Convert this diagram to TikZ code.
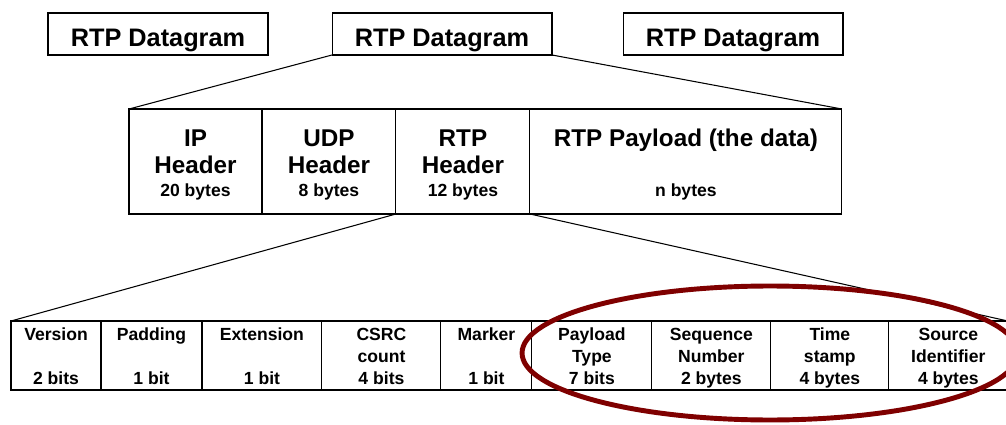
\documentclass[tikz,border=0pt]{standalone}
\usepackage{fontspec}
\setmainfont{Liberation Sans}
\usepackage{tikz}
\usetikzlibrary{positioning, shapes.geometric}
\definecolor{RingRed}{HTML}{7F0000}
\newcommand{\sizetxt}[1]{{\fontsize{10}{12}\selectfont #1}}

\begin{document}
\begin{tikzpicture}[
  x = 0.02cm, y = -0.02cm,
  node distance = 0cm,
  every node/.style = {font=\bfseries},
  cell/.style = {
    rectangle, draw, line width=0.6pt,
    inner sep=0pt, outer sep=0pt,
    align=center
  },
  dgblock/.style  = {cell, minimum width=4.4cm, minimum height=0.84cm,
                     text height=14pt, text depth=0pt,
                     font=\fontsize{14.4}{16}\selectfont\bfseries},
  hdrblock/.style = {cell, minimum height=2.1cm,
                     text height=42.3pt, text depth=2.1pt,
                     font=\fontsize{13.8}{15.9}\selectfont\bfseries},
  fldblock/.style = {cell, minimum height=1.38cm,
                     text height=35.6pt, text depth=2.2pt,
                     font=\fontsize{10}{12.5}\selectfont\bfseries},
  fan/.style      = {line width=0.6pt},
  ring/.style     = {ellipse, draw=RingRed, line width=2.8pt,
                     minimum width=9.92cm, minimum height=2.68cm},
]
\useasboundingbox (0,0) rectangle (1006,425);

% Datagram row
\node[dgblock] (dg1) at (158,34) {RTP Datagram};
\node[dgblock] (dg2) at (442,34) {RTP Datagram};
\node[dgblock] (dg3) at (733,34) {RTP Datagram};

% Header row
\node[hdrblock, minimum width=2.66cm] (ip) at (195.5,161.5)
      {IP\\Header\\[-2.9pt]\sizetxt{20 bytes}};
\node[hdrblock, minimum width=2.68cm, right=of ip] (udp)
      {UDP\\Header\\[-2.9pt]\sizetxt{8 bytes}};
\node[hdrblock, minimum width=2.68cm, right=of udp] (rtph)
      {RTP\\Header\\[-2.9pt]\sizetxt{12 bytes}};
\node[hdrblock, minimum width=6.24cm, right=of rtph] (pay)
      {RTP Payload (the data)\\[12.5pt]\sizetxt{n bytes}};

% RTP header fields
\node[fldblock, minimum width=1.8cm] (ver) at (56,355.5) {Version\\~\\2 bits};
\node[fldblock, minimum width=2.02cm, right=of ver] (pad) {Padding\\~\\1 bit};
\node[fldblock, minimum width=2.4cm, right=of pad] (ext) {Extension\\~\\1 bit};
\node[fldblock, minimum width=2.38cm, right=of ext] (csrc) {CSRC\\count\\4 bits};
\node[fldblock, minimum width=1.82cm, right=of csrc] (mark) {Marker\\~\\1 bit};
\node[fldblock, minimum width=2.4cm, right=of mark] (ptype) {Payload\\Type\\7 bits};
\node[fldblock, minimum width=2.38cm, right=of ptype] (seq) {Sequence\\Number\\2 bytes};
\node[fldblock, minimum width=2.36cm, right=of seq] (ts) {Time\\stamp\\4 bytes};
\node[fldblock, minimum width=2.38cm, right=of ts] (src) {Source\\Identifier\\4 bytes};

% Fan-out lines
\draw[fan] (dg2.south west) -- (ip.north west);
\draw[fan] (dg2.south east) -- (pay.north east);
\draw[fan] (rtph.south west) -- (ver.north west);
\draw[fan] (rtph.south east) -- (src.north east);

% Highlight
\node[ring] (hilite) at (770,353) {};

\end{tikzpicture}
\end{document}
